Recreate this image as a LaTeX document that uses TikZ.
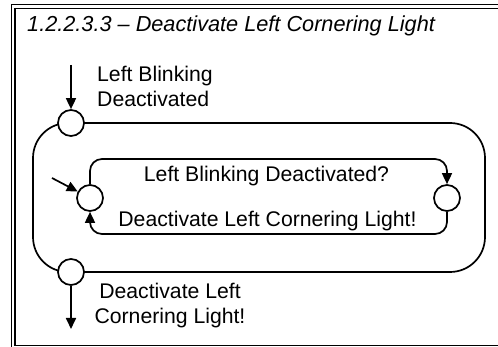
\documentclass[tikz,border=0pt]{standalone}
\usepackage{fontspec}
\setmainfont{Liberation Sans}
\usetikzlibrary{arrows.meta}
\begin{document}
\begin{tikzpicture}[x=1pt, y=-1pt, >={Triangle[length=11pt,width=10pt]},
    font=\fontsize{21.2}{24.5}\selectfont,
    state/.style={circle, draw, fill=white, line width=1.7pt, minimum size=26pt, inner sep=0pt},
    flow/.style={line width=1.7pt},
    frame/.style={line width=1.4pt},
    lbl/.style={inner sep=0pt}]
  \useasboundingbox (0,0) rectangle (498,347);
  \clip (0,0) rectangle (498,347);
  % frame
  \draw[frame] (11.5,4.5) rectangle (520,360);
  \draw[frame] (15,8.5) rectangle (520,345.5);
  \node[lbl, anchor=base west, font=\fontsize{21.7}{24}\selectfont\itshape] (title) at (27,31.5) {1.2.2.3.3 – Deactivate Left Cornering Light};
  % outer state
  \draw[flow, rounded corners=35pt] (33,123) rectangle (485,272);
  \node[state] (in1) at (71,123) {};
  \node[state] (out1) at (71,272) {};
  \node[state] (lc) at (90,198) {};
  \node[state] (rc) at (447,198) {};
  \coordinate (start1) at (71,65);
  \coordinate (end1) at (71,329);
  \coordinate (start2) at (52,178);
  \coordinate (top2) at (90,159);
  \coordinate (bot2) at (90,234);
  \draw[flow, ->] (start1) -- (in1);
  \draw[flow, ->] (out1) -- (end1);
  \draw[flow, ->] (start2) -- (lc);
  \draw[flow, ->, rounded corners=12pt] (lc) |- (rc |- top2) -- (rc);
  \draw[flow, ->, rounded corners=12pt] (rc) |- (bot2) -- (lc);
  % labels
  \node[lbl, anchor=north west, align=left] (trig1) at (97,66) {Left Blinking\\Deactivated};
  \node[lbl, anchor=north, align=center] (act1) at (170,283) {Deactivate Left\\Cornering Light!};
  \node[lbl, anchor=base] (guard) at (266.5,182) {Left Blinking Deactivated?};
  \node[lbl, anchor=base] (act2) at (267.5,227) {Deactivate Left Cornering Light!};
\end{tikzpicture}
\end{document}
